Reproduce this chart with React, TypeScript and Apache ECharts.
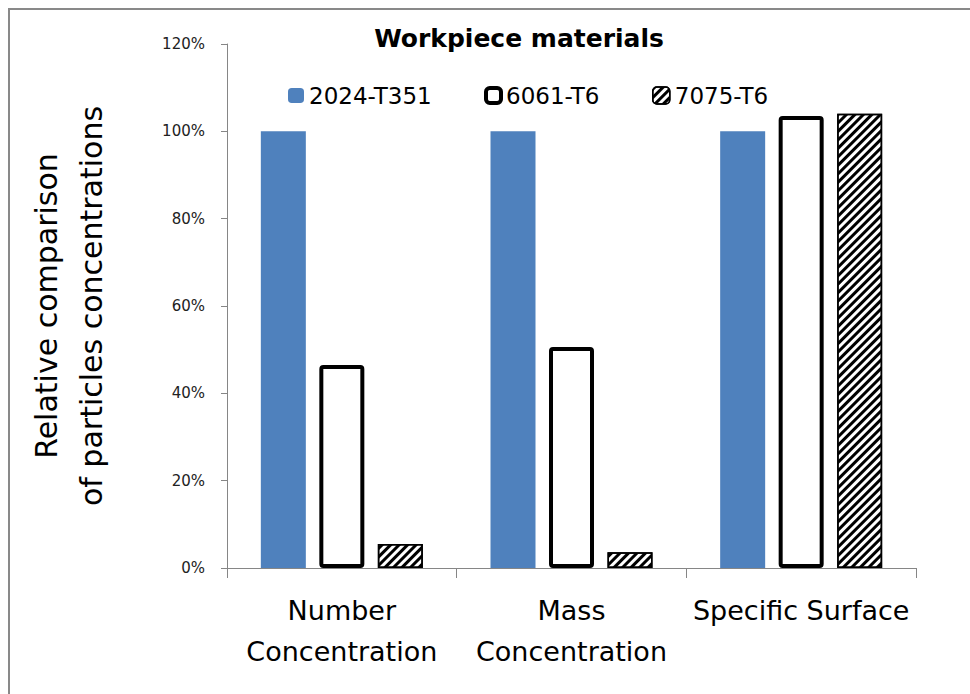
import React, { useEffect, useRef } from "react";
import * as echarts from "echarts";

const categories = ["Number\nConcentration", "Mass\nConcentration", "Specific Surface"];
const seriesNames = ["2024-T351", "6061-T6", "7075-T6"];
const values2024 = [100, 100, 100];
const values6061 = [46.5, 50.6, 103.5];
const values7075 = [5.5, 3.6, 104.0];
const yMin = 0;
const yMax = 120;
const yStep = 20;
const titleText = "Workpiece materials";
const yAxisTitle = "Relative comparison\nof particles concentrations";

export default function App() {
  const ref = useRef<HTMLDivElement>(null);
  useEffect(() => {
    const chart = echarts.init(ref.current!, null, { renderer: "svg" });
    const font = "DejaVu Sans";
    const axisColor = "#868686";
    const legendText = { fontFamily: font, fontSize: 23, color: "#000" };
    const option = {
      animation: false,
      backgroundColor: "#fff",
      graphic: [
        {
          type: "rect",
          shape: { x: 9, y: 9, width: 1200, height: 1200 },
          style: { fill: "none", stroke: "#898989", lineWidth: 2 },
          silent: true,
        },
      ],
      title: {
        text: titleText,
        left: 519,
        top: 26,
        textAlign: "center",
        padding: 0,
        textStyle: { fontFamily: font, fontWeight: "bold", fontSize: 25, color: "#000" },
      },
      legend: [
        {
          data: [seriesNames[0]],
          left: 288,
          top: 84,
          padding: 0,
          itemWidth: 16,
          itemHeight: 15,
          selectedMode: false,
          itemStyle: { borderWidth: 0 },
          textStyle: legendText,
        },
        {
          data: [seriesNames[1]],
          left: 484,
          top: 84,
          padding: 0,
          itemWidth: 15,
          itemHeight: 15,
          selectedMode: false,
          itemStyle: { borderWidth: 4 },
          textStyle: legendText,
        },
        {
          data: [seriesNames[2]],
          left: 652,
          top: 84,
          padding: 0,
          itemWidth: 17,
          itemHeight: 17,
          selectedMode: false,
          itemStyle: { borderWidth: 1.5 },
          textStyle: legendText,
        },
      ],
      grid: { left: 227, right: 54, top: 44, bottom: 126 },
      xAxis: {
        type: "category",
        data: categories,
        axisLine: { show: true, lineStyle: { color: axisColor, width: 1 } },
        axisTick: { show: true, length: 10, alignWithLabel: false, lineStyle: { color: axisColor } },
        axisLabel: {
          interval: 0,
          fontFamily: font,
          fontSize: 27,
          lineHeight: 41,
          color: "#000",
          margin: 22,
        },
      },
      yAxis: {
        type: "value",
        min: yMin,
        max: yMax,
        interval: yStep,
        axisLine: { show: true, lineStyle: { color: axisColor, width: 1 } },
        axisTick: { show: true, length: 6, lineStyle: { color: axisColor } },
        splitLine: { show: false },
        axisLabel: {
          formatter: "{value}%",
          fontFamily: font,
          fontSize: 15,
          color: "#222",
          margin: 22,
        },
        name: yAxisTitle,
        nameLocation: "middle",
        nameRotate: 90,
        nameGap: 113,
        nameTextStyle: { fontFamily: font, fontSize: 30, lineHeight: 45, color: "#000" },
      },
      series: [
        {
          name: seriesNames[0],
          type: "bar",
          data: values2024,
          barWidth: 45,
          barGap: "30%",
          itemStyle: { color: "#4F81BD" },
        },
        {
          name: seriesNames[1],
          type: "bar",
          data: values6061,
          barWidth: 45,
          barGap: "30%",
          itemStyle: { color: "#fff", borderColor: "#000", borderWidth: 4, borderRadius: 2 },
        },
        {
          name: seriesNames[2],
          type: "bar",
          data: values7075,
          barWidth: 45,
          barGap: "30%",
          itemStyle: {
            color: "#fff",
            borderColor: "#000",
            borderWidth: 1.5,
            decal: {
              symbol: "rect",
              symbolSize: 1,
              dashArrayX: [1, 0],
              dashArrayY: [3, 3],
              rotation: -Math.PI / 4,
              color: "#000",
            },
          },
        },
      ],
    };
    chart.setOption(option as any);
    return () => chart.dispose();
  }, []);
  return (
    <div
      ref={ref}
      style={{ position: "absolute", left: 0, top: 0, width: 970, height: 694, background: "#fff" }}
    />
  );
}
